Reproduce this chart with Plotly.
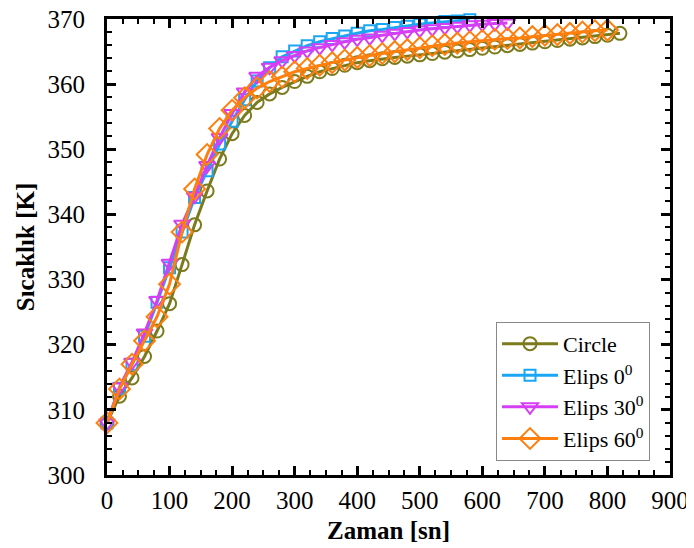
import plotly.graph_objects as go

# time [sn]
t_circle = [0, 20, 40, 60, 80, 100, 120, 140, 160, 180, 200, 220, 240, 260, 280, 300, 320, 340, 360, 380,
            400, 420, 440, 460, 480, 500, 520, 540, 560, 580, 600, 620, 640, 660, 680, 700, 720, 740, 760,
            780, 800, 820]
t_elips0 = [0, 20, 40, 60, 80, 100, 120, 140, 160, 180, 200, 220, 240, 260, 280, 300, 320, 340, 360, 380,
            400, 420, 440, 460, 480, 500, 520, 540, 560, 580]
t_elips30 = [0, 20, 40, 60, 80, 100, 120, 140, 160, 180, 200, 220, 240, 260, 280, 300, 320, 340, 360, 380,
             400, 420, 440, 460, 480, 500, 520, 540, 560, 580, 600, 620, 640]
t_elips60 = [0, 20, 40, 60, 80, 100, 120, 140, 160, 180, 200, 220, 240, 260, 280, 300, 320, 340, 360, 380,
             400, 420, 440, 460, 480, 500, 520, 540, 560, 580, 600, 620, 640, 660, 680, 700, 720, 740, 760,
             780, 800]

# temperature [K]
T_circle = [308.0, 312.1, 314.9, 318.2, 322.1, 326.3, 332.3, 338.4, 343.6, 348.5, 352.4, 355.2, 357.2,
            358.5, 359.5, 360.4, 361.2, 361.9, 362.4, 362.9, 363.3, 363.6, 363.9, 364.1, 364.3, 364.5,
            364.7, 364.9, 365.1, 365.3, 365.5, 365.7, 365.9, 366.1, 366.3, 366.5, 366.7, 366.9, 367.1,
            367.3, 367.5, 367.8]
T_elips0 = [308.0, 313.3, 317.0, 321.3, 326.5, 331.8, 337.3, 342.6, 346.7, 350.8, 354.3, 357.6, 360.5,
            362.5, 364.2, 365.1, 365.9, 366.5, 367.0, 367.4, 367.8, 368.2, 368.4, 368.7, 368.9, 369.2,
            369.4, 369.6, 369.7, 369.9]
T_elips30 = [308.0, 313.5, 317.3, 321.8, 326.8, 332.5, 338.5, 342.8, 347.5, 351.8, 355.5, 358.8, 361.2,
             362.6, 363.6, 364.4, 365.1, 365.6, 366.1, 366.5, 366.9, 367.1, 367.5, 367.8, 368.1, 368.3,
             368.5, 368.7, 368.9, 369.1, 369.2, 369.3, 369.4]
T_elips60 = [308.0, 313.2, 317.0, 320.6, 324.3, 329.3, 337.3, 343.9, 349.2, 353.2, 356.0, 357.9, 359.4,
             360.4, 361.1, 361.9, 362.4, 362.9, 363.3, 363.7, 364.1, 364.4, 364.7, 365.0, 365.3, 365.6,
             365.9, 366.1, 366.3, 366.5, 366.7, 366.9, 367.0, 367.1, 367.3, 367.5, 367.6, 367.8, 368.0,
             368.2, 368.3]

series = [
    ("Circle", t_circle, T_circle, "#7b7b1e", "circle-open", 13),
    ("Elips 0<sup>0</sup>", t_elips0, T_elips0, "#1aa6f2", "square-open", 11),
    ("Elips 30<sup>0</sup>", t_elips30, T_elips30, "#d63ef5", "triangle-down-open", 14),
    ("Elips 60<sup>0</sup>", t_elips60, T_elips60, "#ff7f0e", "diamond-open", 16),
]

FONT = "Liberation Serif"

fig = go.Figure()
for name, t, T, col, sym, sz in series:
    fig.add_trace(go.Scatter(
        x=t, y=T, name=name, mode="lines+markers", cliponaxis=False,
        line=dict(color=col, width=3),
        marker=dict(symbol=sym, size=sz, color=col, line=dict(color=col, width=2)),
    ))

axis_style = dict(
    showline=True, linecolor="black", linewidth=3, mirror="ticks",
    ticks="inside", ticklen=9, tickwidth=3, tickcolor="black",
    showgrid=False, zeroline=False, automargin=False, ticklabeloverflow="allow",
    tickfont=dict(family=FONT, size=25, color="black"),
)

fig.update_xaxes(
    range=[0, 900], dtick=100, ticklabelstandoff=1,
    minor=dict(ticks="inside", dtick=25, ticklen=5, tickwidth=2, tickcolor="black"),
    title=dict(text="<b>Zaman [sn]</b>", font=dict(family=FONT, size=25, color="black"), standoff=9),
    **axis_style,
)
fig.update_yaxes(
    range=[300, 370], dtick=10, ticklabelstandoff=14,
    minor=dict(ticks="inside", dtick=2, ticklen=5, tickwidth=2, tickcolor="black"),
    title=dict(text="<b>Sıcaklık [K]</b>", font=dict(family=FONT, size=25, color="black"), standoff=6),
    **axis_style,
)

# page body has an 8px margin, so the figure is shifted by that much
fig.update_layout(
    width=686, height=540,
    margin=dict(l=99, r=24, t=11, b=73),
    plot_bgcolor="white", paper_bgcolor="white",
    font=dict(family=FONT, color="black"),
    legend=dict(
        x=0.9645, y=0.031, xanchor="right", yanchor="bottom",
        bgcolor="white", bordercolor="#888888", borderwidth=1,
        font=dict(family=FONT, size=22, color="black"),
        itemwidth=56, tracegroupgap=0,
    ),
)

fig.write_html("out.html")
